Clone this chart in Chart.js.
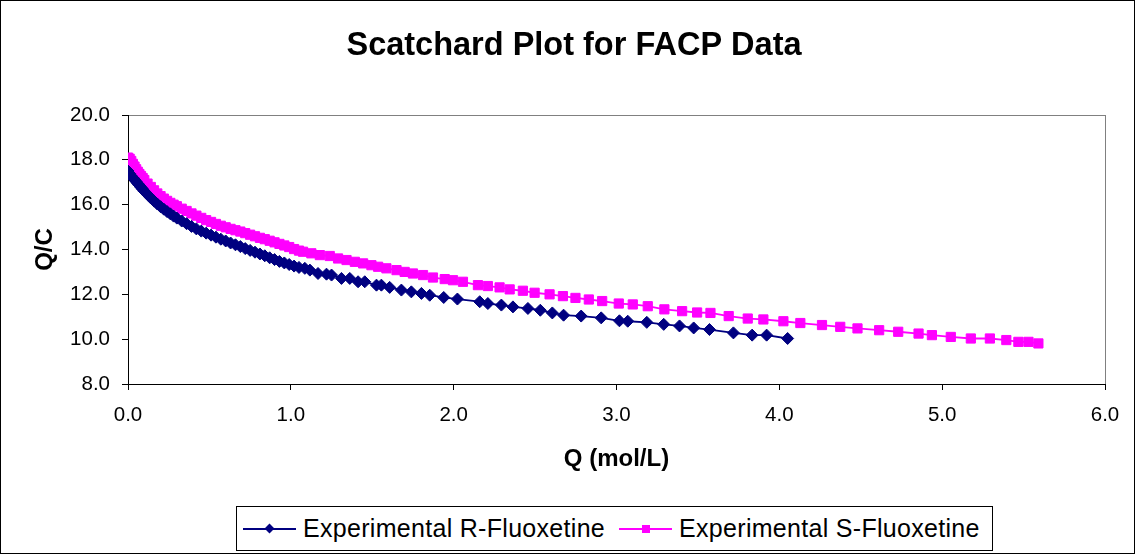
<!DOCTYPE html>
<html>
<head>
<meta charset="utf-8">
<script src="https://cdn.jsdelivr.net/npm/chart.js@4.4.1/dist/chart.umd.min.js"></script>
<style>
    html, body { margin: 0; padding: 0; background: #fff; }
    #wrap { position: relative; width: 1135px; height: 554px; font-family: 'Liberation Sans', Arial, sans-serif; }
    #scatchardChart { position: absolute; left: 0; top: 0; }
    #customLegend {
        position: absolute; left: 236px; top: 506px; width: 755px; height: 43px;
        border: 1px solid #000; background: #fff;
        display: flex; align-items: center; font-size: 25px; color: #000;
    }
    .legend-item { display: flex; align-items: center; }
    .legend-sample { position: relative; width: 53px; height: 2px; margin-left: 6px; margin-right: 7px; }
    .legend-marker { position: absolute; left: 50%; top: 50%; }
    .legend-label { white-space: nowrap; letter-spacing: 0.3px; }
</style>
</head>
<body>
<div id="wrap">
    <canvas id="scatchardChart" width="1135" height="554"></canvas>
    <div id="customLegend"></div>
</div>
<script>
// Experimental R-Fluoxetine: Q (mol/L) and Q/C
const rQ = [0.00, 0.01, 0.02, 0.03, 0.04, 0.05, 0.06, 0.07, 0.08, 0.09, 0.10, 0.12, 0.14, 0.16, 0.18,
    0.20, 0.22, 0.24, 0.26, 0.28, 0.30, 0.33, 0.36, 0.39, 0.42, 0.45, 0.48, 0.51, 0.54, 0.57, 0.60,
    0.63, 0.66, 0.69, 0.72, 0.75, 0.78, 0.81, 0.84, 0.87, 0.90, 0.93, 0.96, 0.99, 1.02, 1.05,
    1.086, 1.117, 1.167, 1.219, 1.250, 1.311, 1.362, 1.413, 1.454, 1.526, 1.556, 1.607, 1.679, 1.740,
    1.802, 1.853, 1.939, 2.023, 2.160, 2.210, 2.293, 2.364, 2.456, 2.532, 2.606, 2.675, 2.783, 2.906,
    3.018, 3.069, 3.186, 3.290, 3.387, 3.474, 3.571, 3.718, 3.833, 3.922, 4.051];
const rQC = [17.50, 17.38, 17.28, 17.20, 17.12, 17.03, 16.94, 16.86, 16.77, 16.69, 16.60, 16.45, 16.30, 16.16, 16.03,
    15.91, 15.80, 15.69, 15.59, 15.49, 15.40, 15.27, 15.15, 15.03, 14.92, 14.82, 14.73, 14.64, 14.55, 14.46, 14.38,
    14.29, 14.21, 14.13, 14.04, 13.96, 13.88, 13.80, 13.72, 13.63, 13.55, 13.47, 13.40, 13.33, 13.26, 13.20,
    13.16, 13.08, 12.93, 12.90, 12.86, 12.71, 12.71, 12.56, 12.56, 12.41, 12.41, 12.31, 12.19, 12.11,
    12.04, 11.96, 11.86, 11.79, 11.67, 11.59, 11.52, 11.44, 11.37, 11.29, 11.17, 11.07, 11.03, 10.95,
    10.82, 10.80, 10.75, 10.66, 10.59, 10.50, 10.43, 10.28, 10.18, 10.18, 10.03];

// Experimental S-Fluoxetine
const sQ = [0.00, 0.01, 0.02, 0.03, 0.04, 0.05, 0.06, 0.07, 0.08, 0.09, 0.10, 0.12, 0.14, 0.16, 0.18,
    0.20, 0.22, 0.24, 0.26, 0.28, 0.30, 0.33, 0.36, 0.39, 0.42, 0.45, 0.48, 0.51, 0.54, 0.57, 0.60,
    0.63, 0.66, 0.69, 0.72, 0.75, 0.78, 0.81, 0.84, 0.87, 0.90, 0.93, 0.96, 0.99, 1.02, 1.05,
    1.075, 1.126, 1.178, 1.239, 1.290, 1.342, 1.393, 1.444, 1.495, 1.536, 1.587, 1.649, 1.699, 1.750,
    1.812, 1.873, 1.945, 1.996, 2.057, 2.149, 2.210, 2.282, 2.344, 2.425, 2.497, 2.589, 2.671, 2.748,
    2.830, 2.912, 3.014, 3.100, 3.192, 3.294, 3.403, 3.495, 3.577, 3.689, 3.806, 3.902, 4.025, 4.129,
    4.262, 4.374, 4.480, 4.613, 4.730, 4.855, 4.937, 5.053, 5.176, 5.293, 5.394, 5.468, 5.530, 5.591];
const sQC = [18.10, 18.05, 17.95, 17.82, 17.70, 17.58, 17.47, 17.37, 17.28, 17.19, 17.10, 16.94, 16.79, 16.64, 16.50,
    16.38, 16.27, 16.17, 16.08, 16.00, 15.93, 15.82, 15.72, 15.61, 15.51, 15.41, 15.31, 15.23, 15.14, 15.06, 14.99,
    14.92, 14.86, 14.80, 14.73, 14.66, 14.59, 14.52, 14.46, 14.39, 14.32, 14.25, 14.18, 14.11, 14.02, 13.95,
    13.90, 13.83, 13.75, 13.71, 13.60, 13.53, 13.45, 13.38, 13.30, 13.23, 13.16, 13.08, 13.00, 12.93,
    12.86, 12.75, 12.68, 12.63, 12.56, 12.41, 12.37, 12.31, 12.22, 12.16, 12.07, 12.00, 11.92, 11.84,
    11.77, 11.70, 11.59, 11.55, 11.47, 11.33, 11.25, 11.19, 11.17, 11.03, 10.92, 10.88, 10.80, 10.72,
    10.63, 10.55, 10.48, 10.40, 10.33, 10.25, 10.18, 10.10, 10.03, 10.03, 9.96, 9.88, 9.88, 9.81];

const seriesNames = ['Experimental R-Fluoxetine', 'Experimental S-Fluoxetine'];
const seriesColors = ['#000080', '#ff00ff'];
const chartTitle = 'Scatchard Plot for FACP Data';
const xTitle = 'Q (mol/L)';
const yTitle = 'Q/C';

const FONT = "'Liberation Sans', Arial, sans-serif";

const toPoints = (xs, ys) => xs.map((x, i) => ({ x: x, y: ys[i] }));

// white background, outer frame, grey plot frame and the title
const framePlugin = {
    id: 'frame',
    beforeDraw(chart) {
        const ctx = chart.ctx;
        ctx.save();
        ctx.fillStyle = '#fff';
        ctx.fillRect(0, 0, chart.width, chart.height);
        ctx.strokeStyle = '#000';
        ctx.lineWidth = 1;
        ctx.strokeRect(0.5, 0.5, chart.width - 1, chart.height - 1);
        const a = chart.chartArea;
        ctx.strokeStyle = '#808080';
        ctx.strokeRect(Math.round(a.left) + 0.5, Math.round(a.top) + 0.5,
            Math.round(a.right - a.left), Math.round(a.bottom - a.top));
        ctx.fillStyle = '#000';
        ctx.font = 'bold 32.5px ' + FONT;
        ctx.textAlign = 'center';
        ctx.textBaseline = 'middle';
        ctx.fillText(chartTitle, 574, 46);
        ctx.restore();
    }
};

document.addEventListener("DOMContentLoaded", function () {
    const ctx = document.getElementById("scatchardChart");

    const chart = new Chart(ctx, {
        type: 'scatter',
        data: {
            datasets: [{
                label: seriesNames[0],
                data: toPoints(rQ, rQC),
                showLine: true,
                borderColor: seriesColors[0],
                backgroundColor: seriesColors[0],
                borderWidth: 1.8,
                pointStyle: 'rectRot',
                pointRadius: 6,
                pointBorderWidth: 1,
                tension: 0
            }, {
                label: seriesNames[1],
                data: toPoints(sQ, sQC),
                showLine: true,
                borderColor: seriesColors[1],
                backgroundColor: seriesColors[1],
                borderWidth: 1.8,
                pointStyle: 'rect',
                pointRadius: 6.5,
                pointBorderWidth: 1,
                tension: 0
            }]
        },
        options: {
            responsive: false,
            animation: false,
            layout: { padding: { top: 115, right: 30, bottom: 80, left: 0 } },
            plugins: {
                legend: { display: false },
                title: { display: false },
                tooltip: { enabled: false }
            },
            scales: {
                x: {
                    type: 'linear',
                    min: 0,
                    max: 6,
                    afterFit: function (scale) { scale.height = 90; },
                    border: { color: '#000', width: 1 },
                    grid: { drawOnChartArea: false, drawTicks: true, tickLength: 6, color: '#000' },
                    ticks: {
                        stepSize: 1,
                        padding: 13,
                        color: '#000',
                        font: { family: FONT, size: 20.5 },
                        callback: v => v.toFixed(1)
                    },
                    title: {
                        display: true,
                        text: xTitle,
                        color: '#000',
                        padding: { top: 0, bottom: 0 },
                        font: { family: FONT, size: 24, weight: 'bold' }
                    }
                },
                y: {
                    min: 8,
                    max: 20,
                    afterFit: function (scale) { scale.width = 128; },
                    border: { color: '#000', width: 1 },
                    grid: { drawOnChartArea: false, drawTicks: true, tickLength: 6, color: '#000' },
                    ticks: {
                        stepSize: 2,
                        padding: 12,
                        color: '#000',
                        font: { family: FONT, size: 20.5 },
                        callback: v => v.toFixed(1)
                    },
                    title: {
                        display: true,
                        text: yTitle,
                        color: '#000',
                        padding: { top: 31, bottom: 0 },
                        font: { family: FONT, size: 24, weight: 'bold' }
                    }
                }
            }
        },
        plugins: [framePlugin]
    });

    const legendContainer = document.getElementById("customLegend");
    if (legendContainer) {
        legendContainer.innerHTML = chart.data.datasets.map((ds, i) => {
            const color = ds.borderColor;
            const marker = i === 0
                ? `<span class="legend-marker" style="width:7px;height:7px;margin:-3.5px 0 0 -3.5px;background:${color};transform:rotate(45deg);"></span>`
                : `<span class="legend-marker" style="width:8px;height:8px;margin:-4px 0 0 -4px;background:${color};"></span>`;
            return `
                <div class="legend-item" style="margin-right:${i === 0 ? 8 : 0}px">
                    <span class="legend-sample" style="background:${color};">${marker}</span>
                    <span class="legend-label">${ds.label}</span>
                </div>
            `;
        }).join('');
    }
});
</script>
</body>
</html>
